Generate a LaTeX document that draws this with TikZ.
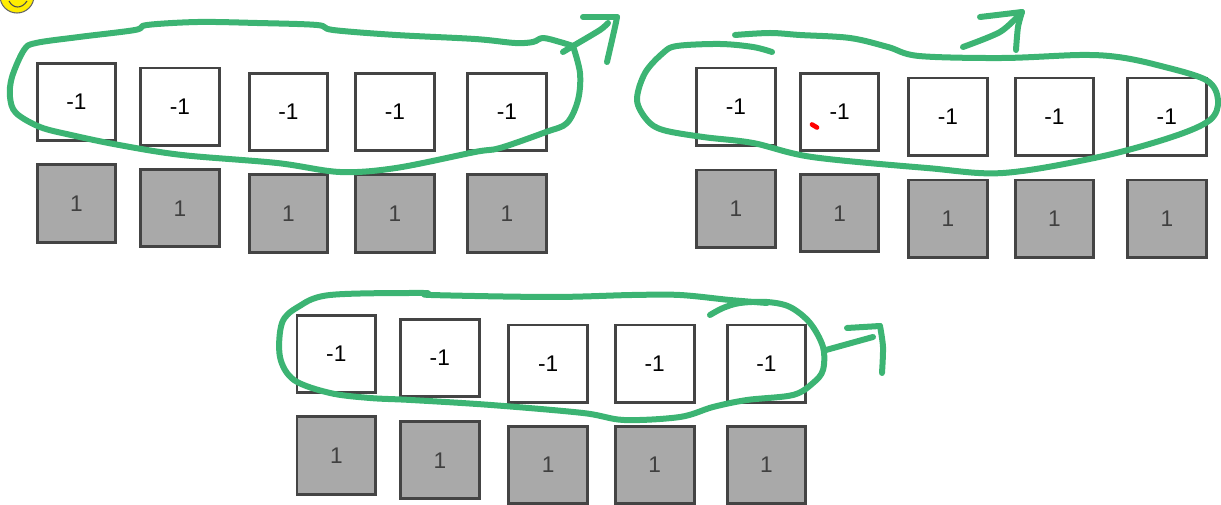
\documentclass[tikz,border=0pt]{standalone}
\usepackage{fontspec}
\setmainfont{Liberation Sans}
\usepackage{xcolor}
\usepackage{tikz}
\definecolor{pengreen}{RGB}{60,180,115}
\definecolor{cellgray}{RGB}{169,169,169}
\definecolor{edgegray}{RGB}{68,68,68}
\tikzset{
  cell/.style={draw=edgegray, line width=2.2pt, minimum width=59pt, minimum height=58pt,
    inner sep=0pt, font=\fontsize{17}{19}\selectfont},
  wcell/.style={cell, fill=white},
  gcell/.style={cell, fill=cellgray, text=black!75},
  pen/.style={pengreen, line width=4.5pt, line cap=round, line join=round},
}

\begin{document}
\begin{tikzpicture}[x=0.75pt, y=-0.75pt]
\useasboundingbox (0,0) rectangle (1221,505);
\clip (0,0) rectangle (1221,505);

% ---- SMILEY (corner) ----
\fill[yellow!95!orange, draw=black!60, line width=0.8pt] (17,-4) circle (17);
\draw[black!70, line width=0.8pt] (9,1) .. controls (13,9) and (22,9) .. (27,1);

% ---- TOP LEFT GROUP ----
\node[wcell] (a1) at (76.5,102) {-1};
\node[wcell] (a2) at (180,106.7) {-1};
\node[wcell] (a3) at (288.5,112) {-1};
\node[wcell] (a4) at (395,112) {-1};
\node[wcell] (a5) at (507,112) {-1};
\node[gcell] (ga1) at (76.5,203.5) {1};
\node[gcell] (ga2) at (180,208.3) {1};
\node[gcell] (ga3) at (288.5,213.5) {1};
\node[gcell] (ga4) at (395,213.5) {1};
\node[gcell] (ga5) at (507,213.5) {1};

% ---- TOP RIGHT GROUP ----
\node[wcell] (b1) at (736,106.7) {-1};
\node[wcell] (b2) at (839.6,112) {-1};
\node[wcell] (b3) at (948,116.7) {-1};
\node[wcell] (b4) at (1054.5,116.7) {-1};
\node[wcell] (b5) at (1166.8,116.7) {-1};
\node[gcell] (gb1) at (736,208.7) {1};
\node[gcell] (gb2) at (839.6,213.3) {1};
\node[gcell] (gb3) at (948,218.7) {1};
\node[gcell] (gb4) at (1054.5,218.7) {1};
\node[gcell] (gb5) at (1166.8,218.7) {1};

% ---- BOTTOM GROUP ----
\node[wcell] (c1) at (336.3,353.8) {-1};
\node[wcell] (c2) at (439.8,358) {-1};
\node[wcell] (c3) at (548.2,363.7) {-1};
\node[wcell] (c4) at (654.7,363.7) {-1};
\node[wcell] (c5) at (766.4,363.7) {-1};
\node[gcell] (gc1) at (336.3,455.5) {1};
\node[gcell] (gc2) at (439.8,460.3) {1};
\node[gcell] (gc3) at (548.2,465) {1};
\node[gcell] (gc4) at (654.7,465) {1};
\node[gcell] (gc5) at (766.4,465) {1};

% Pen loop round the top left row
\draw[pen] plot[smooth, tension=0.55] coordinates {(573,46) (580,73) (578,100) (567,123)
  (546,132) (500,148) (475,152) (396,168) (340,172) (277,163) (182,155) (119,145) (71,135)
  (40,127) (16,113) (10,97) (12,77) (24,50) (36,43) (79,37) (135,30) (147,25) (198,22)
  (257,23) (317,25) (333,30) (396,35) (475,39) (515,43) (533,42) (543,38) (560,42) (573,46)};
\draw[pen] (563,52) -- (573,46);
\draw[pen] plot[smooth] coordinates {(573,46) (600,30) (608,23)};
\draw[pen] plot[smooth] coordinates {(583,17) (617,17)};
\draw[pen] plot[smooth] coordinates {(617,17) (615,27) (607,62)};

% Pen loop round the top right row
\draw[pen] plot[smooth, tension=0.55] coordinates {(735,35) (770,33) (800,35) (850,38)
  (888,47) (919,56) (1003,58) (1080,55) (1118,57) (1157,65) (1206,80) (1218,100) (1210,120)
  (1172,137) (1099,157) (1003,173) (927,168) (812,157) (753,143) (703,137) (663,130)
  (647,120) (637,100) (645,73) (663,53) (677,46) (720,44) (753,47) (772,52)};
\draw[pen] plot[smooth] coordinates {(963,47) (1000,32) (1020,14)};
\draw[pen] plot[smooth] coordinates {(980,17) (997,15) (1022,12)};
\draw[pen] plot[smooth] coordinates {(1022,12) (1018,27) (1016,50)};

% red mark
\draw[red, line width=3.5pt, line cap=round] (812,124.5) -- (817,127.5);

% Pen loop round the bottom row
\draw[pen] plot[smooth, tension=0.55] coordinates {(710,315) (723,308) (740,303) (767,302)
  (790,307) (810,323) (823,347) (823,370) (813,383) (793,395) (747,400) (713,407) (680,417)
  (624,420) (583,413) (491,405) (411,400) (370,398) (330,393) (294,380) (280,357) (282,323)
  (298,307) (330,295) (423,293) (431,295) (551,297) (632,295) (680,295) (730,300) (767,303)};
\draw[pen] (826,350) -- (873,337);
\draw[pen] plot[smooth] coordinates {(847,328) (880,326)};
\draw[pen] plot[smooth] coordinates {(880,326) (883,347) (882,373)};

\end{tikzpicture}
\end{document}
